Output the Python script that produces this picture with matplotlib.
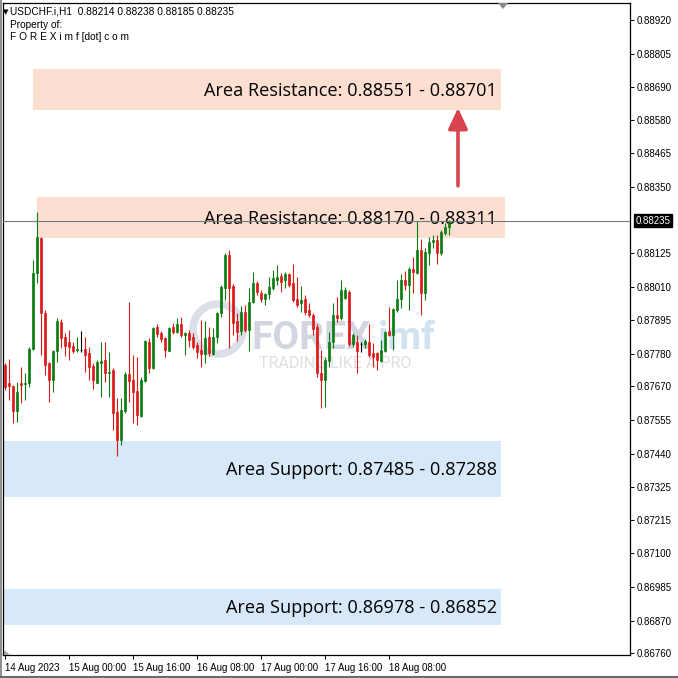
import matplotlib
matplotlib.use("Agg")
import matplotlib.pyplot as plt
from matplotlib.patches import Rectangle, Circle, Polygon
from matplotlib.lines import Line2D
import matplotlib.transforms as mtransforms

# ---------------- data ----------------
symbol_header = "USDCHF.i,H1  0.88214 0.88238 0.88185 0.88235"
owner_line1 = "Property of:"
owner_line2 = "F O R E X i m f [dot] c o m"

opens = [0.87744, 0.87682, 0.87672, 0.87587, 0.87682, 0.87679, 0.87682, 0.87798, 0.88057, 0.88177,
         0.87921, 0.87750, 0.87692, 0.87791, 0.87890, 0.87839, 0.87822, 0.87808, 0.87795, 0.87795,
         0.87798, 0.87784, 0.87740, 0.87682, 0.87750, 0.87761, 0.87716, 0.87727, 0.87583, 0.87488,
         0.87587, 0.87713, 0.87692, 0.87655, 0.87570, 0.87689, 0.87822, 0.87733, 0.87873, 0.87853,
         0.87836, 0.87791, 0.87873, 0.87856, 0.87883, 0.87846, 0.87853, 0.87839, 0.87812, 0.87795,
         0.87781, 0.87839, 0.87781, 0.87839, 0.87921, 0.88006, 0.88119, 0.88013, 0.87894, 0.87860,
         0.87924, 0.87863, 0.87958, 0.88023, 0.87989, 0.87969, 0.87986, 0.88006, 0.88033, 0.88047,
         0.88033, 0.88054, 0.88023, 0.87969, 0.87955, 0.87969, 0.87931, 0.87914, 0.87873, 0.87716,
         0.87692, 0.87757, 0.87822, 0.87914, 0.87904, 0.87972, 0.87992, 0.87815, 0.87822, 0.87815,
         0.87815, 0.87822, 0.87784, 0.87784, 0.87757, 0.87791, 0.87860, 0.87846, 0.87931, 0.87969,
         0.88033, 0.88016, 0.88071, 0.88057, 0.88136, 0.87989, 0.88125, 0.88163, 0.88170, 0.88125,
         0.88194, 0.88214]
highs = [0.87750, 0.87764, 0.87675, 0.87686, 0.87737, 0.87716, 0.87805, 0.88102, 0.88265, 0.88180,
         0.87931, 0.87752, 0.87795, 0.87904, 0.87900, 0.87853, 0.87863, 0.87822, 0.87839, 0.87860,
         0.87839, 0.87805, 0.87750, 0.87761, 0.87822, 0.87822, 0.87788, 0.87733, 0.87631, 0.87631,
         0.87720, 0.87958, 0.87778, 0.87771, 0.87703, 0.87829, 0.87836, 0.87872, 0.87883, 0.87860,
         0.87839, 0.87872, 0.87887, 0.87904, 0.87907, 0.87856, 0.87863, 0.87853, 0.87822, 0.87897,
         0.87894, 0.87873, 0.87870, 0.87924, 0.88016, 0.88125, 0.88136, 0.88020, 0.87921, 0.87945,
         0.87948, 0.88006, 0.88061, 0.88030, 0.87999, 0.87989, 0.88044, 0.88068, 0.88085, 0.88057,
         0.88061, 0.88057, 0.88088, 0.88044, 0.88013, 0.87982, 0.87955, 0.87921, 0.87883, 0.87795,
         0.87771, 0.87856, 0.87955, 0.87975, 0.88033, 0.88010, 0.87999, 0.87853, 0.87846, 0.87822,
         0.87832, 0.87883, 0.87819, 0.87788, 0.87829, 0.87860, 0.87941, 0.87938, 0.88033, 0.88054,
         0.88064, 0.88078, 0.88112, 0.88235, 0.88173, 0.88143, 0.88180, 0.88187, 0.88187, 0.88204,
         0.88228, 0.88238]
lows = [0.87658, 0.87624, 0.87546, 0.87549, 0.87614, 0.87624, 0.87669, 0.87795, 0.88023, 0.87778,
        0.87709, 0.87617, 0.87651, 0.87754, 0.87802, 0.87774, 0.87761, 0.87784, 0.87788, 0.87788,
        0.87720, 0.87692, 0.87662, 0.87680, 0.87634, 0.87686, 0.87634, 0.87522, 0.87433, 0.87471,
        0.87580, 0.87617, 0.87546, 0.87539, 0.87566, 0.87686, 0.87716, 0.87730, 0.87839, 0.87822,
        0.87771, 0.87789, 0.87849, 0.87853, 0.87839, 0.87778, 0.87805, 0.87798, 0.87767, 0.87737,
        0.87750, 0.87774, 0.87778, 0.87819, 0.87907, 0.87965, 0.87802, 0.87846, 0.87825, 0.87846,
        0.87856, 0.87791, 0.87955, 0.87982, 0.87958, 0.87948, 0.87969, 0.87999, 0.88016, 0.87992,
        0.88006, 0.88010, 0.87958, 0.87941, 0.87924, 0.87914, 0.87907, 0.87846, 0.87703, 0.87597,
        0.87600, 0.87737, 0.87802, 0.87890, 0.87897, 0.87969, 0.87808, 0.87805, 0.87716, 0.87788,
        0.87802, 0.87771, 0.87737, 0.87727, 0.87754, 0.87788, 0.87842, 0.87795, 0.87924, 0.87938,
        0.87999, 0.87931, 0.87989, 0.88054, 0.87914, 0.87965, 0.88085, 0.88143, 0.88088, 0.88119,
        0.88187, 0.88185]
closes = [0.87669, 0.87672, 0.87587, 0.87651, 0.87675, 0.87682, 0.87798, 0.88057, 0.88180, 0.87921,
          0.87744, 0.87692, 0.87791, 0.87894, 0.87836, 0.87808, 0.87805, 0.87791, 0.87798, 0.87795,
          0.87778, 0.87737, 0.87692, 0.87754, 0.87757, 0.87716, 0.87720, 0.87580, 0.87488, 0.87590,
          0.87713, 0.87689, 0.87651, 0.87573, 0.87692, 0.87825, 0.87733, 0.87870, 0.87849, 0.87832,
          0.87795, 0.87870, 0.87856, 0.87883, 0.87846, 0.87853, 0.87829, 0.87805, 0.87788, 0.87781,
          0.87836, 0.87784, 0.87839, 0.87921, 0.88010, 0.88119, 0.88006, 0.87887, 0.87856, 0.87924,
          0.87863, 0.87958, 0.88023, 0.87992, 0.87969, 0.87986, 0.88010, 0.88040, 0.88044, 0.88027,
          0.88054, 0.88016, 0.87965, 0.87948, 0.87965, 0.87924, 0.87914, 0.87866, 0.87716, 0.87692,
          0.87761, 0.87822, 0.87914, 0.87904, 0.87999, 0.87999, 0.87815, 0.87846, 0.87791, 0.87815,
          0.87825, 0.87778, 0.87771, 0.87761, 0.87795, 0.87856, 0.87846, 0.87935, 0.87969, 0.88033,
          0.88016, 0.88071, 0.88061, 0.88136, 0.87989, 0.88129, 0.88163, 0.88170, 0.88125, 0.88197,
          0.88214, 0.88235]

x_tick_bars = [0, 16, 32, 48, 64, 80, 96]
x_tick_labels = ["14 Aug 2023", "15 Aug 00:00", "15 Aug 16:00", "16 Aug 08:00",
                 "17 Aug 00:00", "17 Aug 16:00", "18 Aug 08:00"]
y_ticks = [0.88920, 0.88805, 0.88690, 0.88580, 0.88465, 0.88350, 0.88125, 0.88010,
           0.87895, 0.87780, 0.87670, 0.87555, 0.87440, 0.87325, 0.87215, 0.87100,
           0.86985, 0.86870, 0.86760]
current_price = 0.88235

resist_lo = [0.88612, 0.88175]
resist_hi = [0.88753, 0.88315]
resist_text = ["Area Resistance: 0.88551 - 0.88701", "Area Resistance: 0.88170 - 0.88311"]
support_lo = [0.87293, 0.86856]
support_hi = [0.87485, 0.86979]
support_text = ["Area Support: 0.87485 - 0.87288", "Area Support: 0.86978 - 0.86852"]
arrow_from = 0.88354
arrow_to = 0.88620

# ---------------- layout / style ----------------
W = H = 678
fig = plt.figure(figsize=(6.78, 6.78), dpi=100)
fig.patch.set_facecolor("white")
ax = fig.add_axes([3 / W, 1 - 655 / H, 627 / W, 652 / H])
ax.set_xlim(-0.5, 156.25)
ax.set_ylim(0.867532, 0.88978)

TICKFONT = "Liberation Sans"
BOXFONT = "Open Sans"
GREEN = "#0b7d10"
RED = "#dc1a1a"
RES_COLOR = "#fcdfd1"
SUP_COLOR = "#d7e8f8"

def px(x, y):
    return (x / W, 1 - y / H)

text_trans = mtransforms.offset_copy(ax.transData, fig=fig, x=0, y=-1.5, units="dots")

# zones
res_x = [(7, 124), (8, 125)]
for (x0, x1), lo, hi, t in zip(res_x, resist_lo, resist_hi, resist_text):
    ax.add_patch(Rectangle((x0, lo), x1 - x0, hi - lo, facecolor=RES_COLOR, edgecolor="none", zorder=1))
    ax.text(123, (lo + hi) / 2, t, ha="right", va="center", fontsize=13.1,
            family=BOXFONT, color="black", zorder=3, transform=text_trans)
for lo, hi, t in zip(support_lo, support_hi, support_text):
    ax.add_patch(Rectangle((-0.5, lo), 124.5, hi - lo, facecolor=SUP_COLOR, edgecolor="none", zorder=1))
    ax.text(123, (lo + hi) / 2, t, ha="right", va="center", fontsize=13.1,
            family=BOXFONT, color="black", zorder=3, transform=text_trans)

# watermark (behind candles)
ax.add_patch(Circle(px(218, 329), 25 / W, transform=fig.transFigure, facecolor="none",
                    edgecolor="#dcdfe7", linewidth=5.5, zorder=2, clip_on=False))
ax.text(*px(251, 349), "FOREX", fontsize=28, fontweight="bold", family="Roboto",
        color="#d3d6e0", ha="left", va="baseline", zorder=2, transform=fig.transFigure)
ax.text(*px(378, 349), "imf", fontsize=28, fontweight="bold", family="Roboto",
        color="#d2e2f1", ha="left", va="baseline", zorder=2, transform=fig.transFigure)
ax.text(*px(259, 368), "TRADING LIKE A PRO", fontsize=11.5, family="Roboto",
        color="#dedfe4", ha="left", va="baseline", zorder=2, transform=fig.transFigure)

# candles
xs = list(range(len(opens)))
colors = []
for o, c in zip(opens, closes):
    if c > o:
        colors.append(GREEN)
    elif c < o:
        colors.append(RED)
    else:
        colors.append("black")
ax.vlines(xs, lows, highs, colors=colors, linewidth=0.8, zorder=4)
bottoms = [min(o, c) for o, c in zip(opens, closes)]
heights = [abs(c - o) for o, c in zip(opens, closes)]
ax.bar(xs, heights, bottom=bottoms, width=0.72, color=colors, edgecolor=colors,
       linewidth=0.5, zorder=5)

# price line
ax.axhline(current_price, color="#6e7c7c", linewidth=0.8, zorder=6)

# arrow
ax.annotate("", xy=(113.25, arrow_to), xytext=(113.25, arrow_from),
            arrowprops=dict(arrowstyle="-|>,head_length=0.9,head_width=0.42",
                            color="#d9434b", lw=2.6, mutation_scale=14,
                            shrinkA=0, shrinkB=0), zorder=7)

# axes styling
for s in ax.spines.values():
    s.set_color("black")
    s.set_linewidth(0.9)
ax.yaxis.tick_right()
ax.set_yticks(y_ticks)
ax.set_yticklabels([f"{v:.5f}" for v in y_ticks])
ax.tick_params(axis="y", direction="out", length=3, width=0.7, pad=2, labelsize=7,
               colors="black")
ax.set_xticks(x_tick_bars)
ax.set_xticklabels(x_tick_labels, ha="left")
ax.tick_params(axis="x", direction="out", length=3, width=0.7, pad=2.5, labelsize=7)
for lab in ax.get_xticklabels() + ax.get_yticklabels():
    lab.set_family(TICKFONT)

# current price label
trans = mtransforms.blended_transform_factory(ax.transAxes, ax.transData)
ax.text(1.009, current_price, f"{current_price:.5f}", transform=trans, ha="left", va="center",
        fontsize=7, family=TICKFONT, color="white",
        bbox=dict(facecolor="black", edgecolor="black", pad=1.2), zorder=10, clip_on=False)

# header
fig.text(*px(3, 12), "\u25BC", fontsize=5, color="black", va="center", ha="left")
fig.text(*px(10, 12), symbol_header, fontsize=7.3, family=TICKFONT, va="center", ha="left")
fig.text(*px(10, 25), owner_line1, fontsize=7.3, family=TICKFONT, va="center", ha="left")
fig.text(*px(10, 37), owner_line2, fontsize=7.3, family=TICKFONT, va="center", ha="left")

# MT4 markers
fig.add_artist(Polygon([px(498, 3), px(508, 3), px(503, 9)], closed=True,
                       transform=fig.transFigure, facecolor="#8a8a8a", edgecolor="none"))
fig.add_artist(Polygon([px(4, 650), px(4, 655), px(10, 655)], closed=True,
                       transform=fig.transFigure, facecolor="#a0a0a0", edgecolor="none"))
# window edges
fig.add_artist(Line2D([0.5 / W, 0.5 / W], [0, 1], transform=fig.transFigure, color="#7a7a7a", lw=1.2))
fig.add_artist(Line2D([0, 1], [1.2 / H, 1.2 / H], transform=fig.transFigure, color="#6a6a6a", lw=1.5))

fig.savefig("out.png", dpi=100)
